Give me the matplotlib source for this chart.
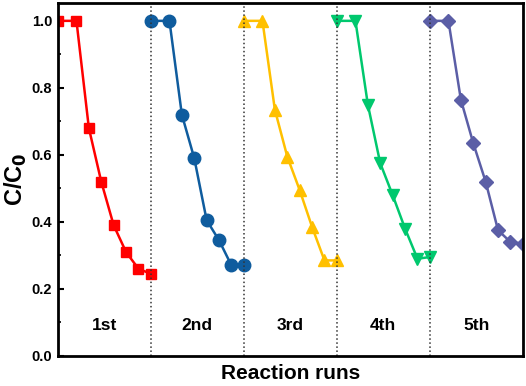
import matplotlib
matplotlib.use("Agg")
import matplotlib.pyplot as plt
from matplotlib.ticker import MultipleLocator

# time points inside one run (min), run length
t_run = [0, 30, 50, 70, 90, 110, 130, 150]
run_len = 150

runs = ["1st", "2nd", "3rd", "4th", "5th"]
run1 = [1.0, 1.0, 0.68, 0.52, 0.39, 0.31, 0.26, 0.245]
run2 = [1.0, 1.0, 0.72, 0.59, 0.405, 0.345, 0.27, 0.27]
run3 = [1.0, 1.0, 0.735, 0.595, 0.495, 0.385, 0.285, 0.285]
run4 = [1.0, 1.0, 0.75, 0.575, 0.48, 0.38, 0.29, 0.295]
run5 = [1.0, 1.0, 0.765, 0.635, 0.52, 0.375, 0.34, 0.335]
values = [run1, run2, run3, run4, run5]

colors = ["#FF0000", "#0F5C9E", "#FFC000", "#00C86E", "#5B5EA6"]
markers = ["s", "o", "^", "v", "D"]
sizes = [7, 9, 9, 9, 7.5]

plt.rcParams['font.family'] = ['Arial', 'Liberation Sans', 'DejaVu Sans']
plt.rcParams['font.weight'] = 'bold'

fig = plt.figure(figsize=(5.26, 3.86), dpi=100)
ax = fig.add_axes([0.110, 0.078, 0.884, 0.914])

for i, (lab, vals) in enumerate(zip(runs, values)):
    xs = [i * run_len + t for t in t_run]
    ax.plot(xs, vals, color=colors[i], marker=markers[i], ms=sizes[i], lw=1.8)
    ax.text(i * run_len + run_len / 2, 0.09, lab, ha='center', va='center',
            fontsize=12.5, fontweight='bold')
    if i > 0:
        ax.axvline(i * run_len, color='#333333', ls=':', lw=1.1)

ax.set_xlim(0, len(runs) * run_len)
ax.set_ylim(0, 1.053)
ax.set_xticks([])
ax.yaxis.set_major_locator(MultipleLocator(0.2))
ax.yaxis.set_minor_locator(MultipleLocator(0.1))
ax.tick_params(axis='y', which='major', direction='in', length=4, width=1.5,
               labelsize=10.5, pad=4)
ax.tick_params(axis='y', which='minor', direction='in', length=2.5, width=1.2)
for lbl in ax.get_yticklabels():
    lbl.set_fontweight('bold')
for sp in ax.spines.values():
    sp.set_linewidth(2)

ax.set_ylabel("C/C$_\\mathbf{0}$", fontsize=17, fontweight='bold')
ax.yaxis.set_label_coords(-0.062, 0.5)
ax.set_xlabel("Reaction runs", fontsize=15, fontweight='bold', labelpad=6)

fig.savefig("out.png", dpi=100)
